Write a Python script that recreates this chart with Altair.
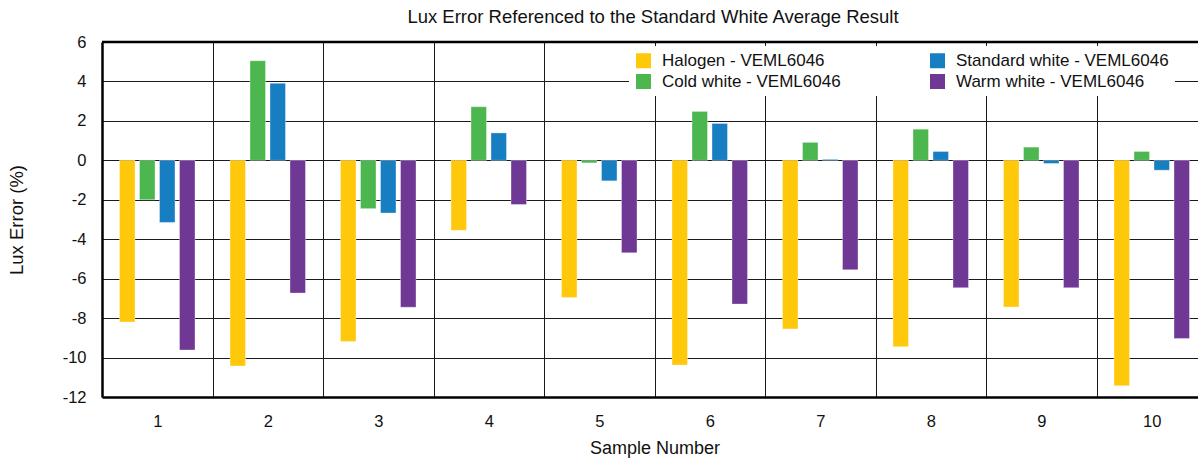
import altair as alt
import pandas as pd

samples = [1, 2, 3, 4, 5, 6, 7, 8, 9, 10]
halogen = [-8.2, -10.43, -9.18, -3.55, -6.95, -10.38, -8.55, -9.45, -7.44, -11.43]
cold_white = [-2.0, 5.05, -2.45, 2.72, -0.13, 2.48, 0.91, 1.58, 0.67, 0.45]
standard_white = [-3.15, 3.91, -2.67, 1.39, -1.04, 1.87, 0.05, 0.45, -0.16, -0.5]
warm_white = [-9.62, -6.73, -7.45, -2.24, -4.69, -7.29, -5.55, -6.46, -6.46, -9.03]

series_names = [
    "Halogen - VEML6046",
    "Cold white - VEML6046",
    "Standard white - VEML6046",
    "Warm white - VEML6046",
]
series_values = [halogen, cold_white, standard_white, warm_white]
series_colors = ["#FFC80B", "#4BB74E", "#177EC2", "#6E3894"]
y_ticks = [-12, -10, -8, -6, -4, -2, 0, 2, 4, 6]

rows = []
for name, vals in zip(series_names, series_values):
    for s, v in zip(samples, vals):
        rows.append({"Sample": str(s), "Series": name, "Value": v})
df = pd.DataFrame(rows)

FONT = "Liberation Sans"
INK = "#111"
sample_order = [str(s) for s in samples]

y_enc = alt.Y(
    "Value:Q",
    scale=alt.Scale(domain=[-12, 6], nice=False, zero=False),
    axis=alt.Axis(
        title="Lux Error (%)",
        values=y_ticks,
        labelExpr="'' + datum.value",
        labelOverlap=False,
        ticks=False,
        grid=True,
        gridColor="#1a1a1a",
        gridWidth=1,
        domainColor="black",
        domainWidth=2.5,
        labelFontSize=16.5,
        labelPadding=16,
        titleFontSize=18.5,
        titlePadding=36,
        titleFontWeight="normal",
        labelColor=INK,
        titleColor=INK,
    ),
)

bars = alt.Chart(df).mark_bar(
    stroke="white", strokeWidth=1, strokeOpacity=0.35
).encode(
    x=alt.X(
        "Sample:N",
        sort=sample_order,
        scale=alt.Scale(range=[0, 1105], paddingInner=0, paddingOuter=0),
        axis=alt.Axis(
            title="Sample Number",
            labelAngle=0,
            ticks=False,
            tickBand="extent",
            grid=True,
            gridColor="#1a1a1a",
            gridWidth=1,
            domainColor="black",
            domainWidth=2.5,
            labelFontSize=16.5,
            labelPadding=16,
            titleFontSize=18,
            titlePadding=10,
            titleFontWeight="normal",
            labelColor=INK,
            titleColor=INK,
        ),
    ),
    xOffset=alt.XOffset(
        "Series:N",
        sort=series_names,
        scale=alt.Scale(paddingInner=0.225, paddingOuter=0.875),
    ),
    y=y_enc,
    y2=alt.datum(0),
    color=alt.Color(
        "Series:N",
        scale=alt.Scale(domain=series_names, range=series_colors),
        legend=alt.Legend(
            title=None,
            orient="none",
            legendX=527,
            legendY=4,
            columns=2,
            columnPadding=88,
            rowPadding=3,
            symbolType="square",
            symbolSize=225,
            symbolStrokeWidth=0,
            symbolOpacity=1,
            labelFontSize=17,
            labelFont=FONT,
            labelColor=INK,
            labelOffset=10,
            labelLimit=400,
            fillColor="white",
            padding=6,
            zindex=1,
        ),
    ),
)

# heavy frame line along the top of the plot
top_border = alt.Chart(pd.DataFrame({"Value": [y_ticks[-1]]})).mark_rule(
    color="black", strokeWidth=2.5
).encode(y=y_enc)

chart = alt.layer(bars, top_border).properties(
    width=1096,
    height=355,
    padding={"left": 102, "top": 42, "right": 0, "bottom": 63},
    autosize=alt.AutoSizeParams(type="none"),
    title=alt.Title(
        "Lux Error Referenced to the Standard White Average Result",
        fontSize=18.5,
        font=FONT,
        fontWeight="normal",
        color=INK,
        offset=8,
        dx=3,
    ),
).configure(
    font=FONT,
).configure_view(
    stroke=None,
)

chart.save("out.html", embed_options={"renderer": "svg", "actions": False})
